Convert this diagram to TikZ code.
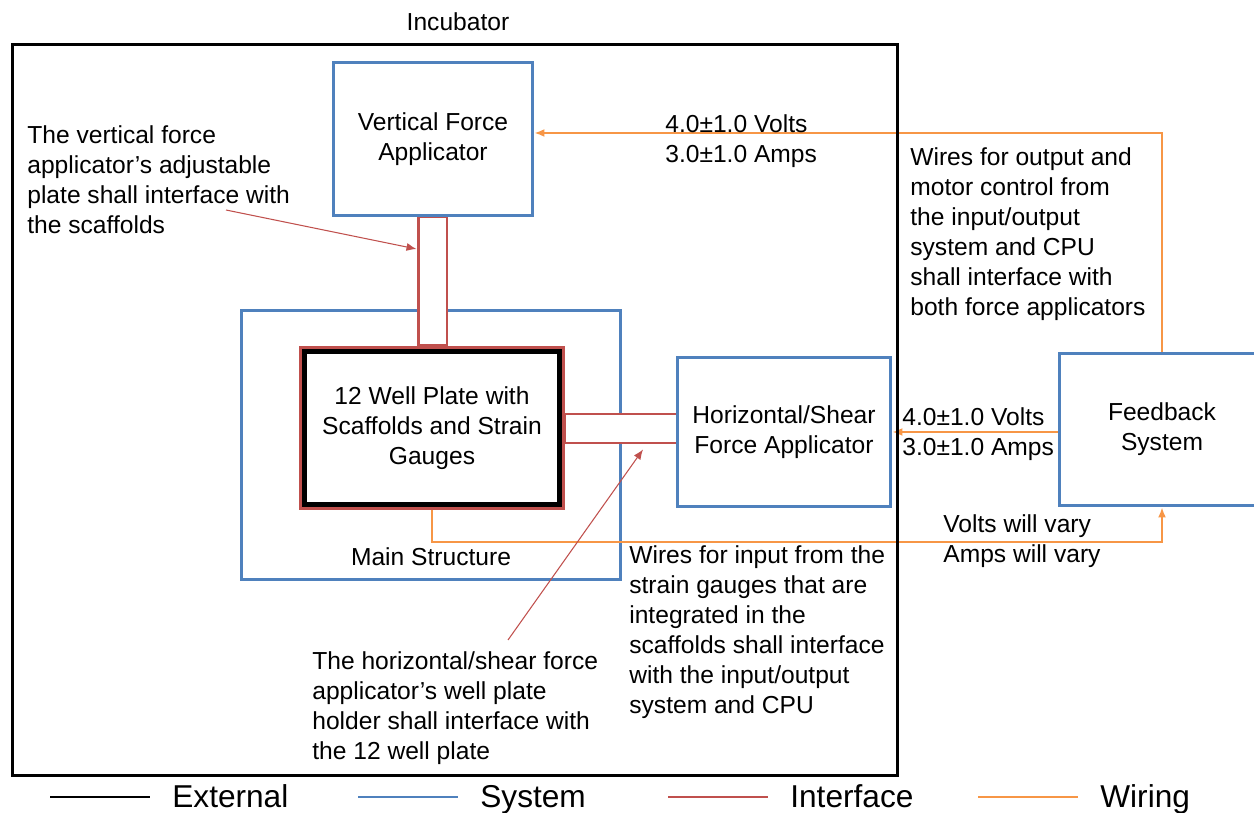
\documentclass[tikz,border=0pt]{standalone}
\usepackage{fontspec}
\setmainfont{Liberation Sans}
\usetikzlibrary{arrows.meta, positioning, calc}
\definecolor{cblue}{HTML}{4F81BD}
\definecolor{cred}{HTML}{C0504D}
\definecolor{corange}{HTML}{F79646}
\tikzset{
  every picture/.style={font=\fontsize{14}{17}\selectfont},
  ext/.style={draw=black, line width=1.7pt, inner sep=0pt},
  sys/.style={draw=cblue, fill=white, line width=1.7pt, align=center, inner sep=0pt},
  ifc/.style={draw=cred, fill=white, line width=1.7pt, inner sep=0pt},
  wire/.style={draw=corange, line width=1pt, -{Latex[length=2mm, width=1.6mm]}},
  pointer/.style={draw=cred, line width=0.6pt, -{Latex[length=2mm, width=1.6mm]}},
  note/.style={align=left, anchor=west, inner sep=0pt},
  legend/.style={anchor=base west, inner sep=0pt, font=\fontsize{18}{20}\selectfont},
}

\begin{document}
\begin{tikzpicture}[x=0.02cm, y=-0.02cm]
  \useasboundingbox (0,0) rectangle (1254,813);
  \node[sys, minimum width=7.6cm, minimum height=5.4cm] (ms) at (431,445) {};
  \node (mslab) at (431,557) {Main Structure};
  \node[ifc, minimum width=0.58cm, minimum height=2.6cm] (vint) at (432.5,281) {};
  \node[ifc, minimum width=2.26cm, minimum height=0.58cm] (hint) at (620.5,428.5) {};
  \node[sys, minimum width=4cm, minimum height=3.08cm] (vfa) at (433,139) {Vertical Force\\Applicator};
  \node[sys, minimum width=4.28cm, minimum height=3cm] (hsa) at (784,432) {Horizontal/Shear\\Force Applicator};
  \node[sys, minimum width=4.12cm, minimum height=3.06cm] (fb) at (1162,429.5) {Feedback\\System};
  \node[ifc, minimum width=5.28cm, minimum height=3.24cm] (plate) at (432,428) {};
  \node[ext, line width=2.6pt, fill=white, align=center, minimum width=5.1cm, minimum height=3.06cm] (wp) at (plate) {12 Well Plate with\\Scaffolds and Strain\\Gauges};

  \draw[wire] (fb.north) |- ([yshift=0.12cm]vfa.east);
  \draw[wire] (fb.west |- hsa.east) -- (hsa.east);
  \draw[wire] (plate.south) -- ++(0,31.6) -| (fb.south);
  \node[note] (w1) at (665,141) {4.0±1.0 Volts\\3.0±1.0 Amps};
  \node[note] (w2) at (902,434) {4.0±1.0 Volts\\3.0±1.0 Amps};
  \node[note] (w3) at (943,541) {Volts will vary\\Amps will vary};

  \node[note] (n1) at (27,180) {The vertical force\\applicator’s adjustable\\plate shall interface with\\the scaffolds};
  \node[note] (n2) at (910,234) {Wires for output and\\motor control from\\the input/output\\system and CPU\\shall interface with\\both force applicators};
  \node[note] (n3) at (629,632) {Wires for input from the\\strain gauges that are\\integrated in the\\scaffolds shall interface\\with the input/output\\system and CPU};
  \node[note] (n4) at (312,708) {The horizontal/shear force\\applicator’s well plate\\holder shall interface with\\the 12 well plate};
  \coordinate (p1) at (226,210);
  \coordinate (p2) at (508,640);
  \draw[pointer] (p1) -- ([yshift=0.64cm]vint.west);
  \draw[pointer] (p2) -- ([xshift=0.45cm, yshift=-0.1cm]hint.south);

  \node[ext, minimum width=17.72cm, minimum height=14.64cm] (inc) at (455,410) {};
  \node (inclab) at (458,22) {Incubator};

  \foreach \c/\t/\x [count=\i] in {black/External/50, cblue/System/358, cred/Interface/668, corange/Wiring/978} {
    \coordinate (l\i) at (\x,797);
    \draw[draw=\c, line width=1.7pt] (l\i) -- ++(100,0) coordinate (r\i);
    \node[legend] (leg\i) at ([xshift=0.44cm, yshift=-0.22cm]r\i) {\t};
  }
\end{tikzpicture}
\end{document}
